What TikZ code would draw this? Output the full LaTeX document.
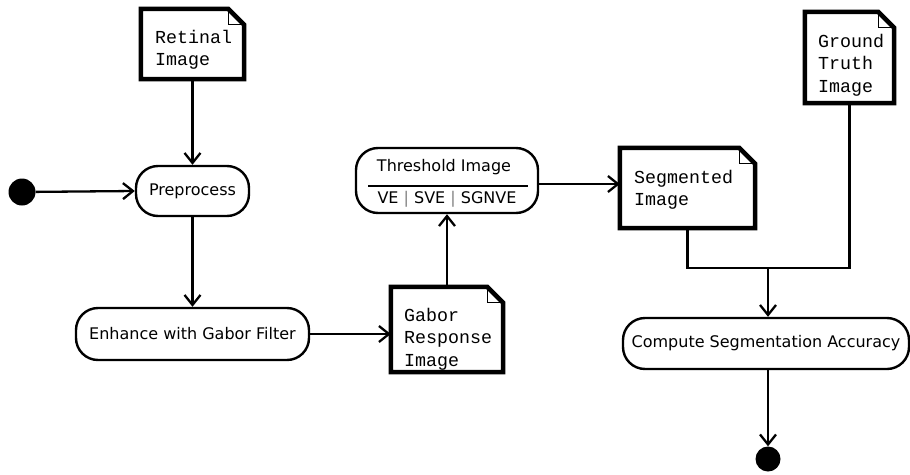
\documentclass[tikz,border=0pt]{standalone}
\usepackage{fontspec}
\setmainfont{DejaVu Sans}
\newfontfamily\monofont{Liberation Mono}
\usetikzlibrary{arrows.meta}

\tikzset{
  activity/.style={draw, line width=2.4pt, rounded corners=22pt, fill=white,
    inner sep=0pt, font=\fontsize{16}{19}\selectfont},
  docframe/.style={inner sep=0pt, fill=none},
  docline/.style={line width=4.5pt, line join=miter},
  foldline/.style={line width=1.1pt},
  doctext/.style={anchor=west, align=left, inner sep=0pt,
    font=\monofont\fontsize{18.3}{22.5}\selectfont},
  flow/.style={line width=2.3pt, -{Straight Barb[length=10pt,width=16pt,line width=2.3pt]}},
  wire/.style={line width=2.3pt},
  terminal/.style={circle, fill=black, inner sep=0pt, minimum size=27pt},
}

% document symbol with a folded top-right corner
\newcommand{\docoutline}[1]{%
  \draw[docline] (#1.north west) -- ([xshift=-16pt]#1.north east)
    -- ([yshift=-16pt]#1.north east) -- (#1.south east) -- (#1.south west) -- cycle;
  \draw[foldline] ([xshift=-16pt]#1.north east) -- ([xshift=-16pt,yshift=-16pt]#1.north east)
    -- ([yshift=-16pt]#1.north east);
}

\begin{document}
\begin{tikzpicture}[x=1pt,y=-1pt]
  \useasboundingbox[fill=white] (0,0) rectangle (910,474);

  % initial and final states
  \node[terminal] (start) at (22,192) {};
  \node[terminal, minimum size=25pt] (stop) at (768,459) {};

  % actions
  \node[activity, minimum width=113pt, minimum height=50pt] (pre) at (192.5,191) {Preprocess};
  \node[activity, minimum width=233pt, minimum height=52pt] (enh) at (192.5,334) {Enhance with Gabor Filter};
  \node[activity, minimum width=182pt, minimum height=65pt] (thr) at (447,180.5) {};
  \node[inner sep=0pt, font=\fontsize{16}{19}\selectfont] (thrA) at (444,167) {Threshold Image};
  \node[inner sep=0pt, font=\fontsize{16}{19}\selectfont] (thrB) at (447,199)
    {VE \textcolor{gray}{|} SVE \textcolor{gray}{|} SGNVE};
  \draw[line width=1.5pt] (368,186) -- (528,186);
  \node[activity, minimum width=286pt, minimum height=51pt] (cmp) at (766,343.5) {Compute Segmentation Accuracy};

  % data objects
  \node[docframe, minimum width=103pt, minimum height=70pt] (ret) at (192.5,44) {};
  \docoutline{ret}
  \node[doctext] (retT) at (155,50) {Retinal\\Image};

  \node[docframe, minimum width=112pt, minimum height=85pt] (gab) at (447,329.5) {};
  \docoutline{gab}
  \node[doctext] (gabT) at (404,339) {Gabor\\Response\\Image};

  \node[docframe, minimum width=135pt, minimum height=80pt] (seg) at (687.5,188) {};
  \docoutline{seg}
  \node[doctext] (segT) at (634,190) {Segmented\\Image};

  \node[docframe, minimum width=89pt, minimum height=91pt] (gt) at (849.5,57.5) {};
  \docoutline{gt}
  \node[doctext] (gtT) at (818,65) {Ground\\Truth\\Image};

  % control and object flows
  \draw[flow] (start) -- (pre.west);
  \draw[flow] (ret.south) -- (pre.north);
  \draw[flow] (pre.south) -- (enh.north);
  \draw[flow] (enh.east) -- (enh.east -| gab.west);
  \draw[flow] (gab.north) -- (thr.south);
  \draw[flow] (thr.east |- 0,184) -- (seg.west |- 0,184);

  \coordinate (join) at (768,268);
  \draw[wire] (seg.south) |- (join);
  \draw[wire] (gt.south) |- (join);
  \draw[flow] (join) -- (join |- cmp.north);
  \draw[flow] (cmp.south -| stop) -- (stop.north);
\end{tikzpicture}
\end{document}
